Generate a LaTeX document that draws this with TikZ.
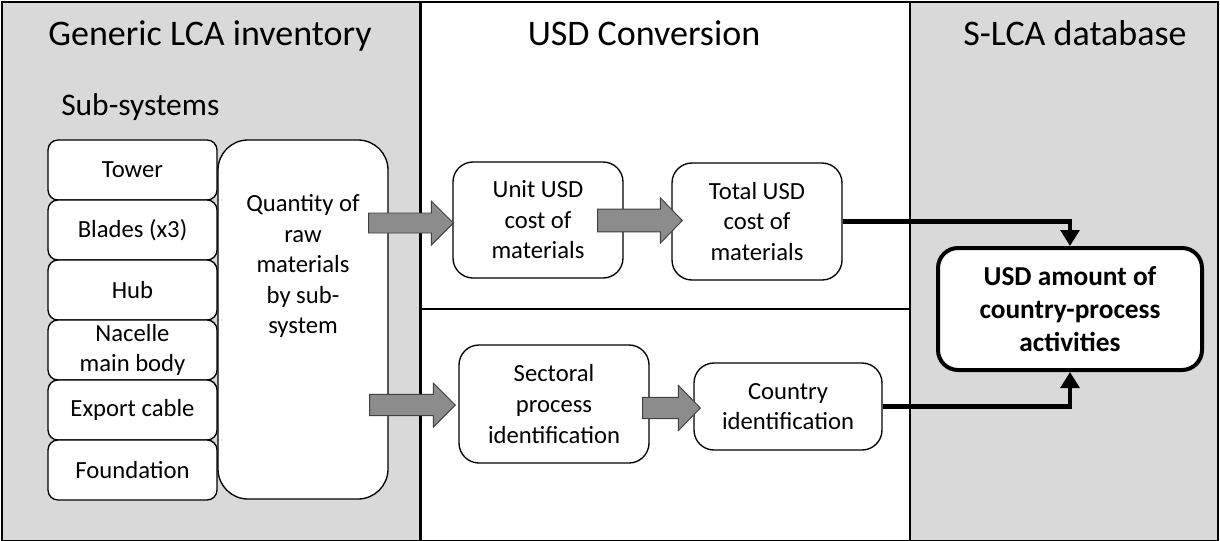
\documentclass[tikz,border=0pt]{standalone}
\usepackage{fontspec}
\setmainfont{Carlito}
\usetikzlibrary{arrows.meta,calc}
\definecolor{panelgray}{HTML}{D9D9D9}
\definecolor{arrowgray}{HTML}{8C8C8C}
\definecolor{arrowedge}{HTML}{404040}
\newcommand\blockarrow[4]{% start node-point, tip point, body half, head half
  \draw[barrow] let \p1=#1, \p2=#2 in
    (\x1,\y2-#3) -- (\x2-16.5pt,\y2-#3) -- (\x2-16.5pt,\y2-#4) -- (\x2,\y2)
    -- (\x2-16.5pt,\y2+#4) -- (\x2-16.5pt,\y2+#3) -- (\x1,\y2+#3) -- cycle;}
\begin{document}
\begin{tikzpicture}[x=0.75pt,y=-0.75pt,
  panel/.style={draw=black,line width=0.9pt,fill=panelgray},
  midpanel/.style={draw=black,line width=2.2pt,fill=white},
  title/.style={font=\fontsize{27}{32}\selectfont,anchor=base,inner sep=0pt},
  boxtxt/.style={align=center,font=\fontsize{18.5}{22.9}\selectfont},
  subbox/.style={boxtxt,draw,line width=1pt,fill=white,rounded corners=7.5pt,
    minimum width=126.75pt,minimum height=45pt,inner sep=0pt},
  procbox/.style={boxtxt,draw,line width=1pt,fill=white,rounded corners=15pt,inner sep=0pt},
  resbox/.style={align=center,font=\fontsize{20.5}{24.75}\selectfont\bfseries,
    draw,line width=3pt,fill=white,rounded corners=15pt,inner sep=0pt,
    minimum width=198pt,minimum height=91.5pt},
  barrow/.style={draw=arrowedge,line width=0.7pt,fill=arrowgray},
  conn/.style={draw=black,line width=3.5pt,-{Triangle[width=14pt,length=12pt]}}
]
\useasboundingbox (0,0) rectangle (1220,540);
% panels
\path[panel] (2,2) rectangle (420,541);
\path[panel] (910,2) rectangle (1218,541);
\path[midpanel] (421,2) rectangle (910,309);
\path[midpanel] (421,309) rectangle (910,541);
% titles
\node[title] (t1) at (210,45) {Generic LCA inventory};
\node[title] (t2) at (644,45) {USD Conversion};
\node[title] (t3) at (1075,45) {S-LCA database};
\node[font=\fontsize{23.6}{28}\selectfont,anchor=base west,inner sep=0pt] (t4) at (61,115) {Sub-systems};
% sub-system boxes
\node[subbox] (tower) at (132.5,170) {Tower};
\node[subbox] (blades) at (132.5,230) {Blades (x3)};
\node[subbox] (hub) at (132.5,290) {Hub};
\node[subbox] (nacelle) at (132.5,350) {Nacelle\\main body};
\node[subbox] (export) at (132.5,410) {Export cable};
\node[subbox] (found) at (132.5,470) {Foundation};
% quantity box
\node[draw,line width=1pt,fill=white,rounded corners=22.5pt,minimum width=127.5pt,
  minimum height=269.25pt,inner sep=0pt] (qty) at (303,319.5) {};
\node[boxtxt,inner sep=0pt] (qtytext) at (303,266) {Quantity of\\raw\\materials\\by sub-\\system};
% process boxes
\node[procbox,minimum width=127.5pt,minimum height=87pt] (unit) at (538,220) {Unit USD\\cost of\\materials};
\node[procbox,minimum width=127.5pt,minimum height=87.75pt] (total) at (757,221.5) {Total USD\\cost of\\materials};
\node[procbox,minimum width=142.5pt,minimum height=88.5pt] (sect) at (554,404) {Sectoral\\process\\identification};
\node[procbox,minimum width=141pt,minimum height=65.25pt] (country) at (788,406.5) {Country\\identification};
\node[resbox] (usd) at (1070,309) {USD amount of\\country-process\\activities};
% block arrows
\blockarrow{($(qty.east)+(-20,0)$)}{($(unit.west)+(1,3)$)}{7.5pt}{16.5pt}
\blockarrow{($(unit.east)+(-26,0)$)}{($(total.west)+(11,-1)$)}{8.5pt}{17pt}
\blockarrow{($(qty.east)+(-19,0)$)}{($(sect.west)+(-3,1)$)}{8pt}{16.5pt}
\blockarrow{($(sect.east)+(-7,0)$)}{($(country.west)+(7,1.5)$)}{8pt}{17pt}
% connectors
\draw[conn] (total.east) -| (usd.north);
\draw[conn] (country.east) -| (usd.south);
\end{tikzpicture}
\end{document}
